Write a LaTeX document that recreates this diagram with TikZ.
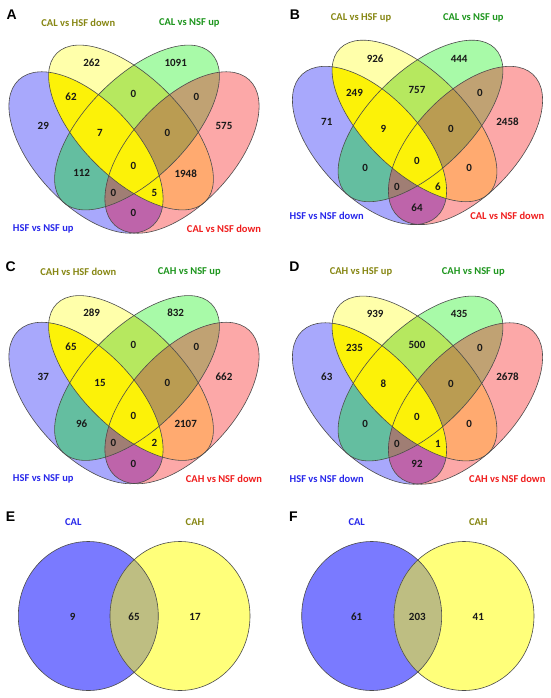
\documentclass[tikz,border=0pt]{standalone}
\usepackage{fontspec}
\setmainfont{Carlito}
\newfontfamily\letterfont{Liberation Sans}

\definecolor{colA}{RGB}{168,168,252}
\definecolor{colB}{RGB}{255,255,170}
\definecolor{colC}{RGB}{168,250,168}
\definecolor{colD}{RGB}{252,168,168}
\definecolor{colAB}{RGB}{252,242,8}
\definecolor{colAC}{RGB}{100,190,160}
\definecolor{colAD}{RGB}{190,100,170}
\definecolor{colBC}{RGB}{182,232,95}
\definecolor{colBD}{RGB}{255,170,112}
\definecolor{colCD}{RGB}{192,162,115}
\definecolor{colACD}{RGB}{160,126,116}
\definecolor{colBCD}{RGB}{186,156,82}
\definecolor{colL}{RGB}{122,122,255}
\definecolor{colR}{RGB}{255,255,122}
\definecolor{colLR}{RGB}{190,190,130}
\definecolor{labolive}{RGB}{135,135,20}
\definecolor{labgreen}{RGB}{30,150,30}
\definecolor{labblue}{RGB}{40,40,235}
\definecolor{labred}{RGB}{240,30,30}

\tikzstyle{outline} = [draw=black!70, line width=0.6pt]
\tikzstyle{num} = [font=\bfseries\fontsize{11}{13}\selectfont, text=black!90, inner sep=0pt]
\tikzstyle{setname} = [font=\bfseries\fontsize{10.5}{12}\selectfont, inner sep=0pt]
\tikzstyle{panel} = [font=\letterfont\bfseries\fontsize{14}{16}\selectfont, inner sep=0pt]

% the four sets of one panel
\newcommand{\ellA}{(86,152.5) ellipse [x radius=99, y radius=51.5, rotate=-47.3]}
\newcommand{\ellB}{(131,127.5) ellipse [x radius=105, y radius=50.5, rotate=-45]}
\newcommand{\ellC}{(137,127.5) ellipse [x radius=105, y radius=50.5, rotate=45]}
\newcommand{\ellD}{(182,152.5) ellipse [x radius=99, y radius=51.5, rotate=47.3]}

\newcommand{\quadfill}{%
	\fill[colA] \ellA; \fill[colB] \ellB; \fill[colC] \ellC; \fill[colD] \ellD;
	\begin{scope} \clip \ellA; \fill[colAC] \ellC; \fill[colAD] \ellD; \end{scope}
	\begin{scope} \clip \ellB; \fill[colBC] \ellC; \fill[colBD] \ellD; \end{scope}
	\begin{scope} \clip \ellC; \fill[colCD] \ellD; \end{scope}
	\begin{scope} \clip \ellA; \clip \ellC; \fill[colACD] \ellD; \end{scope}
	\begin{scope} \clip \ellB; \clip \ellC; \fill[colBCD] \ellD; \end{scope}
	\begin{scope} \clip \ellA; \fill[colAB] \ellB; \end{scope}
	\draw[outline] \ellA; \draw[outline] \ellB; \draw[outline] \ellC; \draw[outline] \ellD;
}

\begin{document}
\begin{tikzpicture}[x=1pt, y=-1pt]

	\useasboundingbox[fill=white] (0,0) rectangle (550,698);

	% Panel A
	\begin{scope}
	\quadfill
	\node[panel] (pA) at (11.7,15) {A};
	\node[setname, text=labolive] (Alb) at (78.3,22.7) {CAL vs HSF down};
	\node[setname, text=labgreen] (Alc) at (189.3,22.7) {CAL vs NSF up};
	\node[setname, text=labblue] (Ala) at (43.3,228.5) {HSF vs NSF up};
	\node[setname, text=labred] (Ald) at (224,228.5) {CAL vs NSF down};
	\node[num] (Ab) at (91.7,62.7) {262}; \node[num] (Ac) at (175.7,62.7) {1091};
	\node[num] (Aab) at (71,96.7) {62}; \node[num] (Abc) at (133.5,94) {0}; \node[num] (Acd) at (196.5,96.7) {0};
	\node[num] (Aa) at (43.3,126) {29}; \node[num] (Ad) at (224,126) {575};
	\node[num] (Aabc) at (100,132.7) {7}; \node[num] (Abcd) at (167.5,132.7) {0};
	\node[num] (Aabcd) at (133.5,165.7) {0};
	\node[num] (Aac) at (81.7,173.3) {112}; \node[num] (Abd) at (185.7,173.3) {1948};
	\node[num] (Aacd) at (113.3,192.7) {0}; \node[num] (Aabd) at (154.3,192.7) {5};
	\node[num] (Aad) at (133.5,213.3) {0};
	\end{scope}

	% Panel B
	\begin{scope}[shift={(283.5,-4)}]
	\begin{scope}[yscale=0.98]
	\quadfill
	\end{scope}
	\node[panel] (pB) at (11.5,19) {B};
	\node[setname, text=labolive] (Blb) at (77.5,22.3) {CAL vs HSF up};
	\node[setname, text=labgreen] (Blc) at (189.8,22.3) {CAL vs NSF up};
	\node[setname, text=labblue] (Bla) at (43.2,220) {HSF vs NSF down};
	\node[setname, text=labred] (Bld) at (223.8,220) {CAL vs NSF down};
	\node[num] (Bb) at (91.7,62.7) {926}; \node[num] (Bc) at (175.7,62.7) {444};
	\node[num] (Bab) at (71,96.7) {249}; \node[num] (Bbc) at (133.5,94) {757}; \node[num] (Bcd) at (196.5,96.7) {0};
	\node[num] (Ba) at (43.3,126) {71}; \node[num] (Bd) at (224,126) {2458};
	\node[num] (Babc) at (100,132.7) {9}; \node[num] (Bbcd) at (167.5,132.7) {0};
	\node[num] (Babcd) at (133.5,164.5) {0};
	\node[num] (Bac) at (81.7,172) {0}; \node[num] (Bbd) at (185.7,172) {0};
	\node[num] (Bacd) at (113.3,191) {0}; \node[num] (Babd) at (154.3,191) {6};
	\node[num] (Bad) at (133.5,211.5) {64};
	\end{scope}

	% Panel C
	\begin{scope}[shift={(0,250.5)}]
	\quadfill
	\node[panel] (pC) at (10.7,16.2) {C};
	\node[setname, text=labolive] (Clb) at (78.3,21.2) {CAH vs HSF down};
	\node[setname, text=labgreen] (Clc) at (189.3,21.2) {CAH vs NSF up};
	\node[setname, text=labblue] (Cla) at (43.3,228.5) {HSF vs NSF up};
	\node[setname, text=labred] (Cld) at (224,228.5) {CAH vs NSF down};
	\node[num] (Cb) at (91.7,62.7) {289}; \node[num] (Cc) at (175.7,62.7) {832};
	\node[num] (Cab) at (71,96.7) {65}; \node[num] (Cbc) at (133.5,94) {0}; \node[num] (Ccd) at (196.5,96.7) {0};
	\node[num] (Ca) at (43.3,126) {37}; \node[num] (Cd) at (224,126) {662};
	\node[num] (Cabc) at (100,132.7) {15}; \node[num] (Cbcd) at (167.5,132.7) {0};
	\node[num] (Cabcd) at (133.5,165.7) {0};
	\node[num] (Cac) at (81.7,173.3) {96}; \node[num] (Cbd) at (185.7,173.3) {2107};
	\node[num] (Cacd) at (113.3,192.7) {0}; \node[num] (Cabd) at (154.3,192.7) {2};
	\node[num] (Cad) at (133.5,213.3) {0};
	\end{scope}

	% Panel D
	\begin{scope}[shift={(283.5,251)}]
	\quadfill
	\node[panel] (pD) at (11,15.7) {D};
	\node[setname, text=labolive] (Dlb) at (77.5,20.7) {CAH vs HSF up};
	\node[setname, text=labgreen] (Dlc) at (189.8,20.7) {CAH vs NSF up};
	\node[setname, text=labblue] (Dla) at (43.2,228) {HSF vs NSF down};
	\node[setname, text=labred] (Dld) at (223.8,228) {CAH vs NSF down};
	\node[num] (Db) at (91.7,62.7) {939}; \node[num] (Dc) at (175.7,62.7) {435};
	\node[num] (Dab) at (71,96.7) {235}; \node[num] (Dbc) at (133.5,94) {500}; \node[num] (Dcd) at (196.5,96.7) {0};
	\node[num] (Da) at (43.3,126) {63}; \node[num] (Dd) at (224,126) {2678};
	\node[num] (Dabc) at (100,132.7) {8}; \node[num] (Dbcd) at (167.5,132.7) {0};
	\node[num] (Dabcd) at (133.5,165.7) {0};
	\node[num] (Dac) at (81.7,173.3) {0}; \node[num] (Dbd) at (185.7,173.3) {0};
	\node[num] (Dacd) at (113.3,192.7) {0}; \node[num] (Dabd) at (154.3,192.7) {1};
	\node[num] (Dad) at (133.5,213.3) {92};
	\end{scope}

	% Panel E
	\fill[colL] (88.3,616) ellipse [x radius=70, y radius=74.5];
	\fill[colR] (180,616) ellipse [x radius=70, y radius=74.5];
	\begin{scope}
	\clip (88.3,616) ellipse [x radius=70, y radius=74.5];
	\fill[colLR] (180,616) ellipse [x radius=70, y radius=74.5];
	\end{scope}
	\draw[outline] (88.3,616) ellipse [x radius=70, y radius=74.5];
	\draw[outline] (180,616) ellipse [x radius=70, y radius=74.5];
	\node[panel] (pE) at (10.5,516.7) {E};
	\node[setname, text=labblue] (Ela) at (73.3,521.7) {CAL};
	\node[setname, text=labolive] (Elb) at (195,521.7) {CAH};
	\node[num] (Ea) at (72.7,616.7) {9}; \node[num] (Eab) at (134,616.7) {65}; \node[num] (Eb) at (195,616.7) {17};

	% Panel F
	\fill[colL] (371.7,616) ellipse [x radius=70, y radius=74.5];
	\fill[colR] (464,616) ellipse [x radius=70, y radius=74.5];
	\begin{scope}
	\clip (371.7,616) ellipse [x radius=70, y radius=74.5];
	\fill[colLR] (464,616) ellipse [x radius=70, y radius=74.5];
	\end{scope}
	\draw[outline] (371.7,616) ellipse [x radius=70, y radius=74.5];
	\draw[outline] (464,616) ellipse [x radius=70, y radius=74.5];
	\node[panel] (pF) at (293.3,516.7) {F};
	\node[setname, text=labblue] (Fla) at (356.7,521.7) {CAL};
	\node[setname, text=labolive] (Flb) at (478.3,521.7) {CAH};
	\node[num] (Fa) at (356.7,616.7) {61}; \node[num] (Fab) at (417.3,616.7) {203}; \node[num] (Fb) at (478.3,616.7) {41};

\end{tikzpicture}
\end{document}
